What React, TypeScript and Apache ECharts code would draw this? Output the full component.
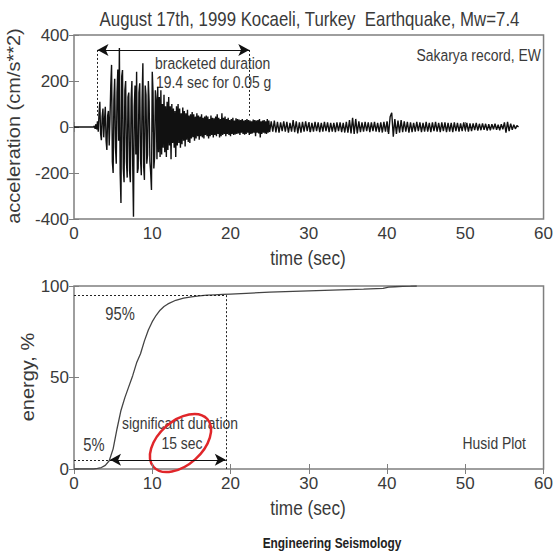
import React, { useEffect, useRef } from "react";
import * as echarts from "echarts";

// ---------- DATA ----------
// Accelerogram, Sakarya EW (cm/s^2)
const accelPreT = [0, 2.4];
const accelPreV = [0, 0];
const strongStartT = 2.5;
const strongDt = 0.1;
const accelStrong = [
  0, 5, -8, 12, -10,
  25, -20, 60, 110, -30, -57, 45, 80, -45, 30,
  88, -60, -100, 50, 70, -80, 40, 180, 270, -150,
  -200, 120, 210, -90, -160, 150, 250, -60, 343, -200,
  -330, 220, 248, -180, -240, 160, 200, -150, -220, 130,
  150, -190, -240, 120, 200, -160, -390, 90, 180, -120,
  240, -200, -180, 150, 190, -140, -210, 120, 277, -170,
  -230, 180, 140, -160, -120, 200, 110, -150, -200, -274,
  240, 150, -180, -130, 160, 120, -140, 175, -110, 130,
  -130, 160, -120, 100, -90, 140, -110, 90, -130, 110,
  -100, 130, -80, 90, -140, 100, -70, 80, -90, 70,
  -130, 90, -80, 100, -70, 80, -90, 60, -75, 85,
  -60, 70, -85, 60, -55, 75, -65, 50, -70, 55,
  -50, 65, -45, 55, -60, 45, -50, 60, -40, 50,
  -55, 45, -40, 55, -45, 40, -50, 45, -35, 50,
  -40, 45, -50, 35, -40, 50, -35, 40, -45, 38,
  -35, 45, -40, 55, -30, 40, -45, 35, -40, 60,
  -35, 40, -30, 45, -40, 35, -30, 40, -35, 30,
  -40, 35, -30, 40, -35, 28, -32, 38, -30, 35,
  -28, 32, -35, 30, -25, 35, -30, 28, -33, 30,
  -30, 35, -25, 30, -35, 28, -30, 25, -28, 32,
  -25, 30, -40, 28, -25, 30, -28, 35, -45, 25,
  -30, 28, -25, 30, -28, 25, -30, 35, -25, 28,
];
const codaStartT = 25;
const codaDt = 0.2;
const accelCoda = [
  -22, 25, -20, 28, -24,
  22, -25, 20, -18, 24,
  -20, 22, -25, 18, -20,
  30, -22, 25, -28, 20,
  -25, 22, -20, 25, -18,
  20, -22, 18, -20, 22,
  -18, 20, -22, 18, -20,
  22, -18, 20, -22, 18,
  -20, 18, -22, 20, -18,
  20, -22, 18, -24, 22,
  -25, 30, -28, 40, -30,
  35, -28, 25, -22, 20,
  -20, 22, -18, 20, -22,
  20, -18, 22, -20, 18,
  -22, 20, -24, 22, -20,
  25, -30, 45, 62, -42,
  35, -30, 28, -25, 30,
  -22, 25, -20, 22, -25,
  20, -22, 18, -20, 22,
  -18, 20, -22, 18, -20,
  22, -20, 18, -22, 20,
  -18, 22, -20, 18, -22,
  20, -18, 20, -22, 18,
  -20, 18, -22, 20, -18,
  18, -20, 16, -18, 20,
  -16, 18, -20, 16, -18,
  16, -14, 18, -16, 14,
  -14, 16, -12, 14, -16,
  12, -14, 12, -10, 14,
  -12, 10, -14, 12, -10,
  20, -25, 22, -18, 15,
  -12, 10, -8, 6, 0,
];

// Husid plot (cumulative energy, %)
const husidTime = [0, 2.5, 3.0, 3.5, 4.0, 4.5, 5.0, 5.5, 6.0, 6.5, 7.0, 7.5, 8.0, 8.5, 9.0, 9.5, 10.0, 10.5, 11.0, 11.5, 12.0, 13.0, 14.0, 15.0, 16.0, 17.0, 18.0, 19.0, 20.0, 22.0, 25.0, 28.0, 31.0, 34.0, 37.0, 39.5, 40.2, 41.0, 42.0, 43.0, 43.8];
const husidEnergy = [0, 0, 0.3, 0.8, 2.0, 4.5, 11, 22, 32, 39, 45, 51, 58, 63, 70, 76, 80.5, 84, 86.8, 88.8, 90.2, 92.2, 93.4, 94.1, 94.6, 95.0, 95.2, 95.4, 95.6, 96.0, 96.6, 97.1, 97.5, 97.9, 98.3, 98.7, 99.4, 99.6, 99.8, 99.9, 100];

// Durations
const bracketStart = 3.0;
const bracketEnd = 22.4;
const bracketArrowLevel = 335;
const thresholdAccel = 49; // 0.05 g
const sigStart = 4.6;
const sigEnd = 19.4;

// Axis ticks
const timeTicks = { min: 0, max: 60, interval: 10 };
const accelTicks = { min: -400, max: 400, interval: 200 };
const energyTicks = { min: 0, max: 100, interval: 50 };

// ---------- STYLE ----------
const FONT = "'Liberation Sans',Arial,sans-serif";
const TXT = "#3a3a3a";
const FRAME = "#7f7f7f";
const SQ = 0.82; // horizontal condensing of the reference lettering

export default function App() {
  const ref = useRef<HTMLDivElement>(null);

  useEffect(() => {
    document.body.style.margin = "0";
    if (!ref.current) return;
    const chart = echarts.init(ref.current, undefined, { renderer: "svg" });

    const accelData: number[][] = [];
    accelPreT.forEach((t, i) => accelData.push([t, accelPreV[i]]));
    accelStrong.forEach((v, i) => accelData.push([+(strongStartT + i * strongDt).toFixed(2), v]));
    accelCoda.forEach((v, i) => accelData.push([+(codaStartT + i * codaDt).toFixed(2), v]));
    const husidData = husidTime.map((t, i) => [t, husidEnergy[i]]);

    const xBase = (gi: number, pos: "bottom" | "top") => ({
      type: "value" as const,
      gridIndex: gi,
      position: pos,
      ...timeTicks,
      axisLine: { show: false },
      axisTick: { inside: true, length: 5, lineStyle: { color: FRAME, width: 1 } },
      axisLabel:
        pos === "bottom"
          ? { show: true, fontSize: 17, fontFamily: FONT, color: TXT, margin: 6, showMinLabel: true, showMaxLabel: true }
          : { show: false },
      splitLine: { show: false },
    });
    const yBase = (gi: number, pos: "left" | "right", ticks: any) => ({
      type: "value" as const,
      gridIndex: gi,
      position: pos,
      ...ticks,
      axisLine: { show: false },
      axisTick: { inside: true, length: 5, lineStyle: { color: FRAME, width: 1 } },
      axisLabel:
        pos === "left"
          ? { show: true, fontSize: 17, fontFamily: FONT, color: TXT, margin: 5, showMinLabel: true, showMaxLabel: true }
          : { show: false },
      splitLine: { show: false },
    });

    const dotted = { type: [2, 2], color: "#222", width: 1 };
    const solid = { type: "solid", color: "#111", width: 1.2 };

    const txt = (text: string, x: number, y: number, align: string, extra: any = {}) => ({
      type: "text",
      x,
      y,
      scaleX: SQ,
      silent: true,
      style: {
        text,
        fontSize: 17,
        fontFamily: FONT,
        fill: TXT,
        align,
        verticalAlign: "middle",
        ...extra,
      },
    });
    const vtxt = (text: string, x: number, y: number) => ({
      type: "text",
      x,
      y,
      rotation: Math.PI / 2,
      scaleY: 0.9,
      silent: true,
      style: { text, fontSize: 20, fontFamily: FONT, fill: TXT, align: "center", verticalAlign: "middle" },
    });

    chart.setOption({
      animation: false,
      backgroundColor: "#ffffff",
      grid: [
        { left: 74, top: 35, width: 471, height: 184, show: true, borderColor: FRAME, borderWidth: 1.5, backgroundColor: "transparent" },
        { left: 74, top: 286, width: 471, height: 183, show: true, borderColor: FRAME, borderWidth: 1.5, backgroundColor: "transparent" },
      ],
      xAxis: [xBase(0, "bottom"), xBase(0, "top"), xBase(1, "bottom"), xBase(1, "top")],
      yAxis: [yBase(0, "left", accelTicks), yBase(0, "right", accelTicks), yBase(1, "left", energyTicks), yBase(1, "right", energyTicks)],
      series: [
        {
          type: "line",
          xAxisIndex: 0,
          yAxisIndex: 0,
          data: accelData,
          showSymbol: false,
          symbol: "none",
          silent: true,
          lineStyle: { color: "#111", width: 1.4 },
          markLine: {
            silent: true,
            symbol: ["none", "none"],
            label: { show: false },
            lineStyle: dotted,
            data: [
              [{ coord: [bracketStart, bracketArrowLevel] }, { coord: [bracketStart, thresholdAccel] }],
              [{ coord: [bracketEnd, bracketArrowLevel] }, { coord: [bracketEnd, thresholdAccel] }],
              [
                { coord: [bracketStart, bracketArrowLevel], symbol: "arrow", symbolSize: [9, 11], lineStyle: solid },
                { coord: [bracketEnd, bracketArrowLevel], symbol: "arrow", symbolSize: [9, 11] },
              ],
            ],
          },
        },
        {
          type: "line",
          xAxisIndex: 2,
          yAxisIndex: 2,
          data: husidData,
          showSymbol: false,
          symbol: "none",
          silent: true,
          lineStyle: { color: "#444", width: 1.3 },
          markLine: {
            silent: true,
            symbol: ["none", "none"],
            label: { show: false },
            lineStyle: dotted,
            data: [
              [{ coord: [0, 95] }, { coord: [sigEnd, 95] }],
              [{ coord: [sigEnd, 95] }, { coord: [sigEnd, 0] }],
              [{ coord: [0, 5] }, { coord: [sigStart, 5] }],
              [
                { coord: [sigStart, 5], symbol: "arrow", symbolSize: [9, 11], lineStyle: solid },
                { coord: [sigEnd, 5], symbol: "arrow", symbolSize: [9, 11] },
              ],
            ],
          },
        },
      ],
      graphic: [
        txt("August 17th, 1999 Kocaeli, Turkey  Earthquake, Mw=7.4", 309.5, 19, "center", { fontSize: 20.5 }),
        vtxt("acceleration (cm/s**2)", 14, 126),
        vtxt("energy, %", 27.5, 377),
        txt("time (sec)", 308, 258, "center", { fontSize: 21 }),
        txt("time (sec)", 308, 508, "center", { fontSize: 21 }),
        txt("Sakarya record, EW", 541, 55, "right"),
        txt("bracketed duration", 155, 63, "left"),
        txt("19.4 sec for 0.05 g", 156, 82, "left"),
        txt("95%", 120, 313, "center", { fontSize: 18 }),
        txt("5%", 94, 444, "center", { fontSize: 18 }),
        txt("significant duration", 180, 423, "center"),
        txt("15 sec", 182, 443, "center"),
        txt("Husid Plot", 526, 443, "right"),
        {
          type: "ellipse",
          x: 180.5,
          y: 443,
          rotation: 0.73,
          silent: true,
          shape: { cx: 0, cy: 0, rx: 36, ry: 22 },
          style: { fill: "none", stroke: "#e0262a", lineWidth: 2.5 },
        },
        txt("Engineering Seismology", 332, 543, "center", { fontSize: 14.5, fontWeight: "bold", fill: "#222" }),
      ],
    });

    return () => chart.dispose();
  }, []);

  return <div ref={ref} style={{ width: 556, height: 552 }} />;
}
